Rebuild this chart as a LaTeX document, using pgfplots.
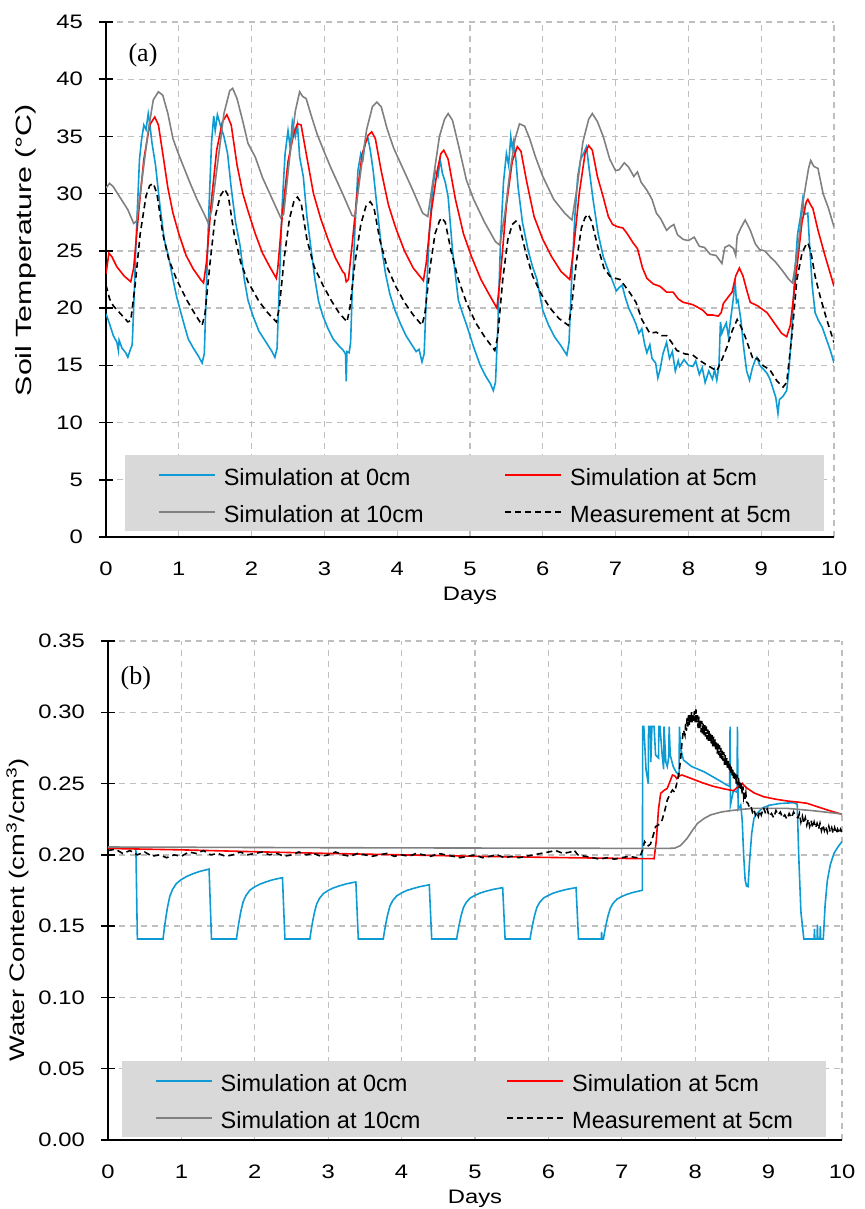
\documentclass[border=0pt]{standalone}
\usepackage{fontspec}
\setmainfont{Liberation Sans}
\newfontfamily\serifpanel{Liberation Serif}
\newfontfamily\tickfont[FakeStretch=1.22]{Liberation Sans}
\newfontfamily\labfont[FakeStretch=1.3]{Liberation Sans}
\newfontfamily\labfonta[FakeStretch=1.38]{Liberation Sans}
\usepackage{pgfplots}
\pgfplotsset{compat=1.18}
\definecolor{cblue}{HTML}{0E9BD3}
\definecolor{cred}{HTML}{FF0000}
\definecolor{cgray}{HTML}{808080}
\definecolor{gridgray}{HTML}{BFBFBF}
\definecolor{legfill}{HTML}{D9D9D9}
\pgfplotsset{
  mystyle/.style={
    scale only axis,
    xmin=0, xmax=10,
    xtick={0,1,2,3,4,5,6,7,8,9,10},
    axis x line*=bottom, axis y line*=left,
    axis line style={-, black, line width=1.8pt},
    grid=major,
    major grid style={draw=gridgray, line width=1.3pt, dash pattern=on 6pt off 5pt},
    xtick style={draw=none},
    ytick style={black, line width=1.5pt},
    tick align=center,
    major tick length=14pt,
    tick label style={font=\tickfont\fontsize{19.5}{22}\selectfont},
    /pgf/number format/assume math mode=true,
    xticklabel style={anchor=north, inner sep=0pt, yshift=-18pt},
    yticklabel style={anchor=east, inner sep=0pt, xshift=-16pt},
    xlabel style={at={(axis description cs:0.5,0)}, anchor=north, inner sep=0pt, yshift=-50pt, font=\tickfont\fontsize{19.5}{22}\selectfont},
    legend columns=2,
    legend cell align=left,
    legend image code/.code={\draw[##1] (0pt,0pt) -- (56pt,0pt);},
    legend style={
      fill=legfill, draw=none,
      inner xsep=33pt, inner ysep=9pt,
      font=\fontsize{23.5}{26}\selectfont,
      row sep=16pt,
      nodes={inner sep=0pt, text height=21pt, text depth=0pt},
      /tikz/every odd column/.append style={column sep=8pt},
    },
  },
  sim0/.style={cblue, line width=1.6pt},
  sim5/.style={cred, line width=1.6pt},
  sim10/.style={cgray, line width=1.6pt},
  meas/.style={black, line width=1.6pt, dash pattern=on 6pt off 4pt},
}
\begin{document}
\begin{tikzpicture}
\useasboundingbox (0,0) rectangle (864pt,1209pt);
% ---------------- Panel (a) ----------------
\begin{axis}[mystyle,
  at={(106pt,672pt)}, anchor=south west,
  width=728pt, height=515pt,
  ymin=0, ymax=45, ytick={0,5,10,15,20,25,30,35,40,45},
  xlabel={Days},
  ylabel={Soil Temperature (°C)},
  ylabel style={at={(axis description cs:-0.1099,0.557)}, anchor=center, inner sep=0pt, font=\labfonta\fontsize{22}{25}\selectfont},
  legend style={at={(axis description cs:0.0261,0.1592)}, anchor=north west,
    /tikz/every even column/.append style={column sep=81pt}},
]
\addplot[sim0] coordinates {
(0.00,19.5) (0.05,18.6) (0.10,17.6) (0.15,17.0) (0.17,16.3) (0.18,17.2) (0.22,16.5) (0.27,16.1) (0.30,15.7) (0.33,16.3) (0.36,16.8)
(0.38,20.0) (0.42,27.0) (0.46,33.0) (0.49,34.8) (0.52,36.0) (0.55,35.6) (0.58,37.0) (0.60,36.2) (0.63,34.5) (0.68,32.5) (0.74,29.0)
(0.80,26.0) (0.86,24.5) (0.92,22.5) (0.97,21.0) (1.02,19.8) (1.08,18.4) (1.13,17.3) (1.20,16.5) (1.27,15.8) (1.32,15.2) (1.35,16.0)
(1.37,20.0) (1.41,28.0) (1.45,34.5) (1.48,36.8) (1.50,35.5) (1.53,36.9) (1.57,36.0) (1.62,35.0) (1.67,33.5) (1.72,30.5) (1.78,27.5)
(1.84,25.5) (1.90,22.5) (1.95,20.7) (2.02,19.3) (2.10,18.0) (2.16,17.4) (2.22,16.8) (2.28,16.2) (2.32,15.7) (2.35,16.5)
(2.38,22.0) (2.42,29.0) (2.46,33.5) (2.50,35.5) (2.53,34.0) (2.56,36.3) (2.60,35.0) (2.63,36.0) (2.66,33.2) (2.71,31.5) (2.76,28.0)
(2.82,25.0) (2.87,22.5) (2.92,20.6) (2.98,19.3) (3.05,18.2) (3.12,17.3) (3.20,16.7) (3.26,16.3) (3.29,16.0) (3.30,13.6) (3.31,16.2)
(3.34,16.1) (3.36,17.0) (3.38,21.0) (3.42,27.0) (3.46,32.0) (3.50,33.5) (3.53,33.0) (3.56,34.5) (3.60,34.8) (3.63,33.8) (3.67,32.0)
(3.72,29.0) (3.78,25.5) (3.84,23.0) (3.90,21.2) (3.97,19.8) (4.04,18.7) (4.12,17.6) (4.20,16.8) (4.26,16.2) (4.30,16.4) (4.34,15.3)
(4.37,16.0) (4.40,21.0) (4.44,26.5) (4.48,30.0) (4.52,32.0) (4.56,31.5) (4.59,33.0) (4.62,31.8) (4.66,31.0) (4.70,29.7) (4.76,25.0)
(4.84,20.7) (4.90,19.5) (4.96,18.4) (5.05,16.6) (5.14,15.0) (5.22,14.0) (5.28,13.4) (5.32,12.8) (5.35,13.5) (5.38,18.0) (5.42,26.0)
(5.46,31.0) (5.50,33.5) (5.53,32.5) (5.56,35.0) (5.58,34.0) (5.60,34.6) (5.63,33.0) (5.66,30.6) (5.72,27.5) (5.80,25.0) (5.86,23.6)
(5.92,22.5) (6.00,19.8) (6.08,18.5) (6.16,17.5) (6.24,16.8) (6.30,16.2) (6.33,15.9) (6.36,17.0) (6.40,23.0) (6.44,28.0) (6.48,31.5)
(6.52,33.0) (6.56,33.5) (6.60,34.1) (6.63,32.5) (6.69,29.5) (6.76,26.5) (6.83,24.5) (6.88,23.6) (6.95,22.5) (7.01,21.5) (7.05,21.8)
(7.09,22.0) (7.13,21.0) (7.18,20.0) (7.24,19.2) (7.28,18.6) (7.32,17.8) (7.36,18.2) (7.40,16.8) (7.43,16.1) (7.47,16.8) (7.50,15.6)
(7.55,15.2) (7.58,13.9) (7.61,14.6) (7.65,16.0) (7.70,17.0) (7.74,15.6) (7.78,16.2) (7.82,14.5) (7.86,15.4) (7.88,14.9) (7.94,15.5)
(8.00,15.0) (8.06,14.9) (8.10,15.4) (8.15,14.2) (8.19,14.8) (8.23,13.5) (8.28,14.5) (8.33,13.8) (8.36,14.6) (8.39,13.7) (8.42,15.0)
(8.44,18.8) (8.46,17.8) (8.49,18.3) (8.52,18.7) (8.55,17.5) (8.58,19.0) (8.62,21.0) (8.64,22.5) (8.66,20.5) (8.68,20.7) (8.72,19.0)
(8.76,16.5) (8.80,14.5) (8.84,13.7) (8.88,14.8) (8.92,15.5) (8.94,15.7) (8.98,15.0) (9.04,14.6) (9.08,14.3) (9.12,13.8) (9.16,13.0)
(9.20,12.2) (9.23,10.8) (9.25,12.0) (9.30,12.3) (9.35,12.8) (9.38,14.5) (9.42,18.0) (9.46,23.0) (9.50,26.5) (9.54,28.0) (9.57,29.5)
(9.60,28.2) (9.64,28.3) (9.66,26.0) (9.70,22.0) (9.74,19.6) (9.78,19.0) (9.84,18.3) (9.90,17.2) (9.95,16.3) (10.0,15.2)
};
\addplot[sim5] coordinates {
(0.00,23.0) (0.04,24.8) (0.08,24.5) (0.15,23.6) (0.25,22.8) (0.34,22.3) (0.38,23.5) (0.45,28.5) (0.52,33.0) (0.60,36.0) (0.67,36.7)
(0.72,36.0) (0.78,33.5) (0.85,30.5) (0.92,28.3) (1.00,26.5) (1.10,24.6) (1.20,23.4) (1.30,22.5) (1.34,22.2) (1.38,24.0) (1.45,29.5)
(1.52,33.8) (1.60,36.3) (1.66,36.9) (1.72,36.0) (1.80,32.5) (1.88,30.0) (1.95,28.5) (2.05,26.5) (2.15,24.8) (2.25,23.6) (2.34,22.6)
(2.36,23.5) (2.42,28.0) (2.50,32.8) (2.58,35.3) (2.63,36.1) (2.68,36.0) (2.75,33.5) (2.85,30.0) (2.95,27.8) (3.05,26.0) (3.15,24.4)
(3.25,23.2) (3.28,23.0) (3.30,22.3) (3.33,22.5) (3.38,25.5) (3.45,30.0) (3.52,33.5) (3.60,35.1) (3.65,35.4) (3.70,34.8) (3.78,32.0)
(3.88,29.0) (3.98,27.0) (4.10,25.0) (4.22,23.5) (4.36,22.4) (4.40,24.0) (4.47,28.5) (4.55,32.0) (4.60,33.5) (4.64,33.8) (4.70,33.0)
(4.80,29.5) (4.91,26.5) (5.02,24.5) (5.15,22.5) (5.28,21.0) (5.37,20.0) (5.42,23.0) (5.50,29.0) (5.58,32.8) (5.65,34.1) (5.70,33.7)
(5.78,31.0) (5.88,28.0) (6.00,26.0) (6.12,24.5) (6.25,23.2) (6.37,22.5) (6.42,25.0) (6.50,30.0) (6.58,33.5) (6.63,34.2) (6.68,33.8)
(6.75,31.5) (6.83,29.7) (6.90,28.0) (6.96,27.3) (7.03,27.1) (7.10,27.0) (7.16,26.5) (7.24,25.7) (7.30,25.2) (7.37,23.5) (7.43,22.6)
(7.52,22.1) (7.61,21.9) (7.70,21.4) (7.79,21.4) (7.86,20.8) (7.93,20.5) (8.00,20.4) (8.06,20.3) (8.12,20.1) (8.20,19.8) (8.26,19.4)
(8.33,19.4) (8.41,19.3) (8.45,19.6) (8.48,20.4) (8.55,21.0) (8.60,21.4) (8.65,22.8) (8.70,23.5) (8.75,22.8) (8.80,21.6) (8.85,20.5)
(8.95,20.2) (9.08,19.6) (9.18,18.7) (9.28,17.8) (9.35,17.5) (9.40,18.5) (9.48,23.0) (9.56,27.5) (9.62,29.3) (9.64,29.5) (9.68,29.0)
(9.71,28.7) (9.78,26.8) (9.88,24.5) (9.95,23.0) (10.0,21.9)
};
\addplot[sim10] coordinates {
(0.00,30.5) (0.05,30.9) (0.10,30.6) (0.20,29.6) (0.30,28.6) (0.38,27.4) (0.42,27.6) (0.50,31.5) (0.58,35.5) (0.65,38.2) (0.72,38.9)
(0.78,38.6) (0.85,37.0) (0.92,34.8) (1.00,33.4) (1.05,32.6) (1.15,31.0) (1.25,29.5) (1.35,28.2) (1.40,27.5) (1.45,28.5) (1.55,33.5)
(1.62,37.0) (1.70,39.0) (1.74,39.2) (1.80,38.3) (1.88,36.3) (1.95,34.4) (2.05,33.2) (2.15,31.4) (2.30,29.3) (2.40,27.9) (2.44,28.2)
(2.52,33.0) (2.60,37.2) (2.66,38.9) (2.70,38.5) (2.75,38.3) (2.82,36.8) (2.90,35.2) (3.00,33.6) (3.10,32.1) (3.25,30.0) (3.38,28.1)
(3.42,28.0) (3.50,32.0) (3.58,35.6) (3.66,37.6) (3.72,38.0) (3.78,37.6) (3.86,35.7) (3.95,34.0) (4.05,32.6) (4.20,30.5) (4.35,28.3)
(4.42,28.0) (4.50,31.5) (4.58,35.0) (4.65,36.5) (4.70,37.0) (4.76,36.4) (4.85,34.0) (4.95,31.2) (5.05,29.5) (5.20,27.5) (5.35,25.8)
(5.41,25.5) (5.48,28.3) (5.55,32.0) (5.62,34.8) (5.68,36.1) (5.75,35.9) (5.82,34.8) (5.90,33.2) (6.00,31.5) (6.15,29.5) (6.30,28.3)
(6.40,27.7) (6.47,30.5) (6.55,34.5) (6.63,36.5) (6.68,37.0) (6.75,36.3) (6.83,35.0) (6.92,33.0) (7.00,32.0) (7.05,32.1) (7.12,32.7)
(7.18,32.3) (7.25,31.5) (7.30,31.9) (7.35,31.0) (7.43,30.3) (7.50,29.5) (7.56,28.3) (7.62,27.8) (7.70,26.8) (7.75,27.1) (7.80,27.3)
(7.85,26.4) (7.93,26.0) (8.00,25.9) (8.08,26.2) (8.15,25.4) (8.22,25.3) (8.30,24.7) (8.38,24.6) (8.46,23.9) (8.50,25.3) (8.56,25.5)
(8.62,25.2) (8.65,24.6) (8.67,26.3) (8.72,27.0) (8.78,27.7) (8.85,26.8) (8.92,25.6) (8.98,25.1) (9.05,25.0) (9.12,24.5) (9.20,24.0)
(9.30,23.2) (9.38,22.5) (9.43,22.2) (9.50,25.0) (9.58,29.5) (9.65,32.2) (9.68,32.9) (9.72,32.4) (9.78,32.2) (9.85,30.0) (9.92,28.8)
(10.0,27.1)
};
\addplot[meas] coordinates {
(0.00,22.0) (0.05,20.8) (0.10,20.2) (0.20,19.5) (0.30,18.8) (0.34,18.9) (0.40,22.0) (0.47,26.5) (0.55,29.8) (0.60,30.7) (0.65,30.9)
(0.70,30.0) (0.78,26.5) (0.86,24.3) (0.97,22.5) (1.11,20.7) (1.22,19.5) (1.32,18.5) (1.36,19.5) (1.43,24.0) (1.50,28.0) (1.57,29.8)
(1.63,30.4) (1.68,29.8) (1.76,26.5) (1.85,24.0) (1.95,22.3) (2.10,20.6) (2.22,19.6) (2.34,18.8) (2.38,20.0) (2.45,24.5) (2.52,27.8)
(2.58,29.3) (2.63,29.7) (2.68,29.2) (2.76,26.0) (2.86,23.6) (2.98,22.0) (3.10,20.6) (3.20,19.6) (3.31,18.8) (3.35,20.0) (3.42,24.0)
(3.50,27.3) (3.57,28.9) (3.63,29.3) (3.68,28.8) (3.76,26.0) (3.86,23.6) (3.98,21.9) (4.10,20.5) (4.22,19.4) (4.34,18.5) (4.38,19.5)
(4.45,23.5) (4.52,26.5) (4.58,27.6) (4.61,27.9) (4.66,27.5) (4.74,25.0) (4.84,22.5) (4.95,20.5) (5.08,18.7) (5.20,17.5) (5.34,16.3)
(5.38,17.5) (5.45,22.5) (5.52,26.0) (5.58,27.3) (5.63,27.6) (5.68,27.2) (5.76,25.0) (5.86,22.8) (5.98,21.2) (6.10,20.0) (6.22,19.1)
(6.35,18.5) (6.39,19.8) (6.46,24.0) (6.53,27.0) (6.58,27.9) (6.62,28.2) (6.67,27.6) (6.75,25.5) (6.84,23.5) (6.92,22.8) (7.00,22.6)
(7.06,22.5) (7.12,22.0) (7.20,21.3) (7.28,20.5) (7.36,19.0) (7.47,17.8) (7.56,17.9) (7.63,17.6) (7.70,17.6) (7.77,17.0) (7.84,16.3)
(7.95,16.0) (8.06,15.9) (8.16,15.4) (8.26,15.0) (8.34,14.7) (8.39,14.5) (8.46,15.5) (8.53,16.6) (8.60,18.0) (8.67,19.0) (8.72,18.4)
(8.78,17.5) (8.84,16.4) (8.89,15.5) (8.95,15.6) (9.02,15.0) (9.12,14.6) (9.22,13.6) (9.30,13.1) (9.35,13.5) (9.42,17.5) (9.49,22.5)
(9.56,24.8) (9.62,25.6) (9.64,25.7) (9.68,25.0) (9.74,22.8) (9.81,21.0) (9.90,19.0) (10.0,17.0)
};
\legend{Simulation at 0cm, Simulation at 5cm, Simulation at 10cm, Measurement at 5cm}
\node[font=\serifpanel\fontsize{26}{30}\selectfont] at (axis description cs:0.0508,0.936) {(a)};
\end{axis}
% ---------------- Panel (b) ----------------
\begin{axis}[mystyle,
  at={(108pt,69pt)}, anchor=south west,
  width=734pt, height=499pt,
  ymin=0, ymax=0.35, ytick={0,0.05,0.1,0.15,0.2,0.25,0.3,0.35},
  yticklabel style={/pgf/number format/.cd, fixed, fixed zerofill, precision=2},
  xlabel={Days},
  ylabel={Water Content (cm\textsuperscript{3}/cm\textsuperscript{3})},
  ylabel style={at={(axis description cs:-0.1233,0.461)}, anchor=center, inner sep=0pt, font=\labfont\fontsize{21}{24}\selectfont},
  legend style={at={(axis description cs:0.019,0.1583)}, anchor=north west,
    /tikz/every even column/.append style={column sep=86pt}},
]
\addplot[sim0] coordinates {
(0,0.205) (0.38,0.205) (0.40,0.141) (0.75,0.141)
(0.765,0.1474) (0.783,0.1542) (0.81,0.1631) (0.842,0.1709) (0.88,0.1758) (0.933,0.1800) (1.00,0.1827) (1.069,0.1848) (1.15,0.1866) (1.25,0.1884) (1.377,0.1900)
(1.41,0.141) (1.75,0.141)
(1.765,0.1466) (1.783,0.1526) (1.81,0.1604) (1.842,0.1672) (1.88,0.1715) (1.933,0.1752) (2.00,0.1776) (2.069,0.1794) (2.15,0.1810) (2.25,0.1826) (2.377,0.1840)
(2.41,0.141) (2.75,0.141)
(2.765,0.1462) (2.783,0.1518) (2.81,0.1590) (2.842,0.1654) (2.88,0.1694) (2.933,0.1728) (3.00,0.1750) (3.069,0.1768) (3.15,0.1782) (3.25,0.1797) (3.377,0.1810)
(3.41,0.141) (3.75,0.141)
(3.765,0.1459) (3.783,0.1513) (3.81,0.1581) (3.842,0.1642) (3.88,0.1680) (3.933,0.1712) (4.00,0.1733) (4.069,0.1750) (4.15,0.1763) (4.25,0.1777) (4.377,0.1790)
(4.41,0.141) (4.75,0.141)
(4.765,0.1457) (4.783,0.1507) (4.81,0.1572) (4.842,0.1630) (4.88,0.1666) (4.933,0.1697) (5.00,0.1716) (5.069,0.1732) (5.15,0.1745) (5.25,0.1758) (5.377,0.1770)
(5.41,0.141) (5.75,0.141)
(5.765,0.1457) (5.783,0.1507) (5.81,0.1572) (5.842,0.1630) (5.88,0.1666) (5.933,0.1697) (6.00,0.1716) (6.069,0.1732) (6.15,0.1745) (6.25,0.1758) (6.377,0.1770)
(6.41,0.141) (6.72,0.141) (6.725,0.146) (6.73,0.141) (6.75,0.141)
(6.765,0.1456) (6.783,0.1505) (6.81,0.1568) (6.842,0.1624) (6.88,0.1659) (6.933,0.1689) (7.00,0.1708) (7.069,0.1723) (7.15,0.1736) (7.25,0.1748) (7.28,0.1751)
(7.285,0.29) (7.30,0.29) (7.33,0.26) (7.36,0.250) (7.365,0.29) (7.39,0.29) (7.395,0.265) (7.41,0.29) (7.44,0.29) (7.46,0.27) (7.50,0.268)
(7.505,0.29) (7.52,0.29) (7.55,0.27) (7.57,0.26) (7.575,0.29) (7.60,0.265) (7.62,0.262) (7.64,0.269) (7.645,0.29) (7.66,0.27) (7.70,0.262)
(7.74,0.258) (7.78,0.256) (7.785,0.29) (7.80,0.275) (7.84,0.2665) (7.95,0.262) (8.12,0.2583) (8.30,0.253) (8.43,0.249) (8.47,0.248)
(8.475,0.29) (8.48,0.235) (8.52,0.245) (8.57,0.244) (8.575,0.29) (8.585,0.232) (8.62,0.235) (8.64,0.2245) (8.66,0.20) (8.68,0.1824)
(8.70,0.178) (8.72,0.1777) (8.74,0.195) (8.77,0.2151) (8.80,0.2255) (8.84,0.229) (8.92,0.233) (9.02,0.2349) (9.15,0.236) (9.34,0.2366)
(9.39,0.2355) (9.41,0.20) (9.44,0.16) (9.48,0.141) (9.62,0.141) (9.625,0.148) (9.63,0.141) (9.66,0.141) (9.665,0.151) (9.67,0.141)
(9.70,0.141) (9.705,0.150) (9.71,0.141) (9.745,0.141) (9.77,0.165) (9.80,0.182) (9.84,0.193) (9.89,0.201) (9.95,0.206) (10.0,0.2093)
};
\addplot[sim5] coordinates {
(0,0.2045) (1,0.2035) (2,0.2022) (3,0.2010) (4,0.2000) (5,0.1990) (6,0.1982) (7,0.1975) (7.44,0.1973) (7.47,0.210) (7.50,0.232)
(7.53,0.2432) (7.57,0.245) (7.62,0.2467) (7.66,0.252) (7.69,0.256) (7.72,0.2555) (7.75,0.2535) (7.79,0.2555) (7.82,0.256) (7.95,0.2535)
(8.10,0.2505) (8.25,0.2480) (8.40,0.2462) (8.52,0.2450) (8.58,0.2475) (8.64,0.2502) (8.70,0.247) (8.80,0.2435) (8.93,0.2408) (9.10,0.2390)
(9.25,0.2378) (9.40,0.2370) (9.52,0.2362) (9.65,0.2340) (9.80,0.2315) (10,0.2284)
};
\addplot[sim10] coordinates {
(0,0.2055) (3,0.2050) (7.6,0.2045) (7.72,0.2047) (7.80,0.2065) (7.89,0.2116) (7.96,0.217) (8.03,0.222) (8.12,0.2255) (8.21,0.228)
(8.35,0.2300) (8.48,0.231) (8.65,0.232) (8.80,0.2326) (9.25,0.2326) (9.60,0.231) (10,0.2287)
};
\addplot[meas] coordinates {
(0.0,0.203) (0.1,0.204) (0.2,0.201) (0.3,0.203) (0.4,0.200) (0.5,0.202) (0.6,0.199) (0.7,0.200) (0.8,0.198) (0.9,0.200)
(1.0,0.199) (1.1,0.202) (1.2,0.201) (1.3,0.203) (1.4,0.200) (1.5,0.201) (1.6,0.199) (1.7,0.200) (1.8,0.202) (1.9,0.200)
(2.0,0.201) (2.1,0.202) (2.2,0.200) (2.3,0.201) (2.4,0.199) (2.5,0.200) (2.6,0.202) (2.7,0.200) (2.8,0.201) (2.9,0.199)
(3.0,0.200) (3.1,0.202) (3.2,0.200) (3.3,0.199) (3.4,0.201) (3.5,0.200) (3.6,0.199) (3.7,0.200) (3.8,0.201) (3.9,0.199)
(4.0,0.200) (4.1,0.199) (4.2,0.201) (4.3,0.200) (4.4,0.199) (4.5,0.201) (4.6,0.200) (4.7,0.199) (4.8,0.198) (4.9,0.199)
(5.0,0.200) (5.1,0.198) (5.2,0.199) (5.3,0.200) (5.4,0.198) (5.5,0.199) (5.6,0.198) (5.7,0.199) (5.8,0.200) (5.9,0.201)
(6.0,0.202) (6.1,0.203) (6.2,0.201) (6.3,0.202) (6.35,0.2034) (6.4,0.200) (6.5,0.199) (6.6,0.198) (6.7,0.197) (6.8,0.198) (6.9,0.197)
(7.0,0.198) (7.1,0.199) (7.2,0.198) (7.25,0.199)
(7.28,0.203) (7.31,0.2093) (7.35,0.206) (7.39,0.2075) (7.43,0.214) (7.46,0.2198) (7.50,0.221) (7.55,0.2245) (7.59,0.232) (7.62,0.2385)
(7.66,0.243) (7.69,0.2455) (7.72,0.244) (7.75,0.2504) (7.78,0.258) (7.80,0.2665) (7.82,0.279) (7.84,0.2876)
(7.86,0.284) (7.87,0.292) (7.88,0.287) (7.89,0.296) (7.90,0.290) (7.91,0.298) (7.92,0.291) (7.93,0.299) (7.94,0.293) (7.95,0.300)
(7.96,0.292) (7.97,0.299) (7.98,0.294) (7.99,0.301) (8.00,0.292) (8.01,0.302) (8.02,0.293) (8.03,0.298) (8.04,0.289) (8.05,0.297)
(8.06,0.288) (8.07,0.295) (8.08,0.286) (8.09,0.294) (8.10,0.285) (8.11,0.293) (8.12,0.284) (8.13,0.291) (8.14,0.283) (8.15,0.290)
(8.16,0.281) (8.17,0.288) (8.18,0.280) (8.19,0.287) (8.20,0.279) (8.21,0.285) (8.22,0.278) (8.23,0.284) (8.24,0.276) (8.25,0.283)
(8.26,0.275) (8.27,0.281) (8.28,0.273) (8.29,0.280) (8.30,0.271) (8.31,0.278) (8.32,0.270) (8.33,0.277) (8.34,0.268) (8.35,0.275)
(8.36,0.267) (8.37,0.273) (8.38,0.266) (8.39,0.272) (8.40,0.263) (8.41,0.270) (8.42,0.262) (8.43,0.268) (8.44,0.260) (8.45,0.267)
(8.46,0.259) (8.47,0.265) (8.48,0.257) (8.49,0.263) (8.50,0.255) (8.51,0.261) (8.52,0.253) (8.53,0.259) (8.54,0.252) (8.55,0.257)
(8.56,0.250) (8.57,0.256) (8.58,0.249) (8.59,0.254) (8.60,0.247) (8.61,0.252) (8.62,0.245) (8.63,0.250) (8.64,0.243) (8.65,0.248)
(8.66,0.241) (8.67,0.245) (8.68,0.239) (8.69,0.243) (8.70,0.237)
(8.72,0.236) (8.74,0.233) (8.76,0.234) (8.78,0.230) (8.80,0.232) (8.82,0.228) (8.84,0.230) (8.86,0.227) (8.88,0.231) (8.90,0.228)
(8.93,0.233) (8.96,0.229) (8.98,0.232) (9.01,0.227) (9.04,0.229) (9.07,0.226) (9.10,0.231) (9.13,0.228) (9.16,0.230) (9.19,0.226)
(9.22,0.228) (9.25,0.225) (9.28,0.229) (9.31,0.226) (9.34,0.230) (9.37,0.227)
(9.40,0.226) (9.42,0.229) (9.44,0.223) (9.46,0.227) (9.48,0.222) (9.50,0.226) (9.52,0.221) (9.54,0.225) (9.56,0.220) (9.58,0.224)
(9.60,0.219) (9.62,0.223) (9.64,0.219) (9.66,0.222) (9.68,0.218) (9.70,0.222) (9.72,0.217) (9.74,0.221) (9.76,0.217) (9.78,0.220)
(9.80,0.216) (9.82,0.220) (9.84,0.216) (9.86,0.219) (9.88,0.215) (9.90,0.219) (9.92,0.215) (9.94,0.218) (9.96,0.215) (9.98,0.218)
(10.0,0.216)
};
\legend{Simulation at 0cm, Simulation at 5cm, Simulation at 10cm, Measurement at 5cm}
\node[font=\serifpanel\fontsize{26}{30}\selectfont] at (axis description cs:0.038,0.926) {(b)};
\end{axis}
\end{tikzpicture}
\end{document}
